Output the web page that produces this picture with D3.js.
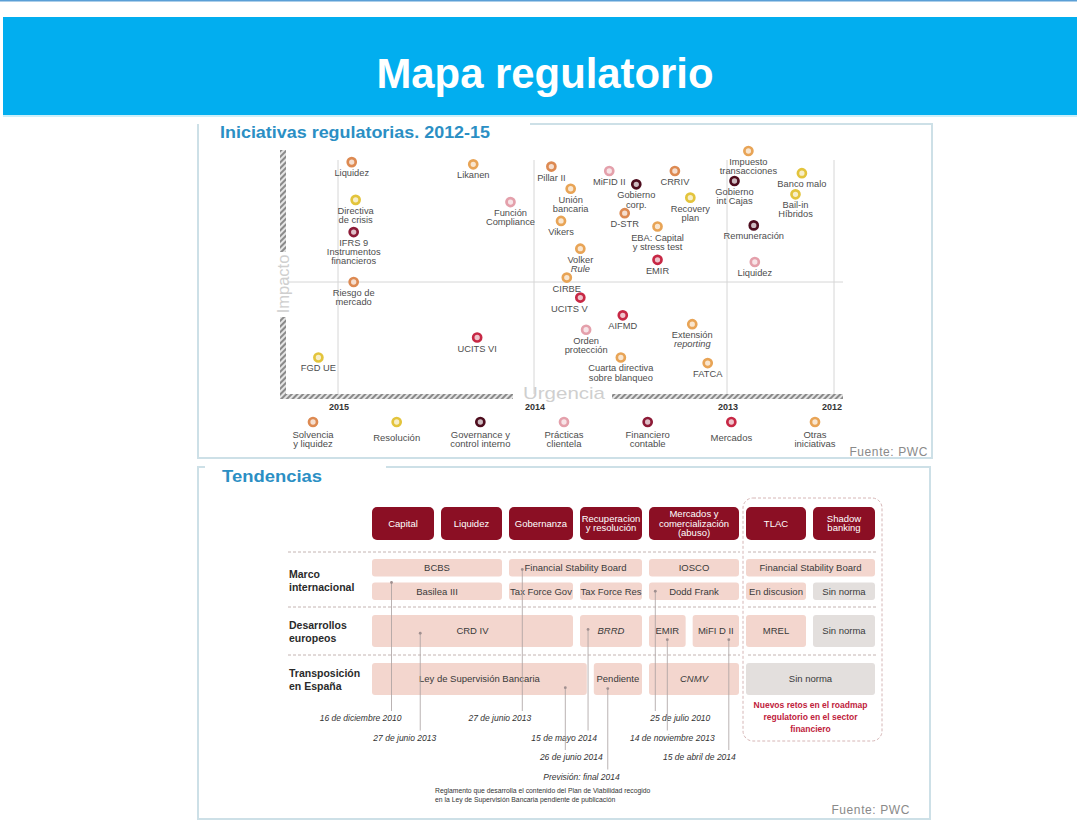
<!DOCTYPE html>
<html>
<head>
<meta charset="utf-8">
<script src="https://cdn.jsdelivr.net/npm/d3@7"></script>
<style>
  body { margin: 0; background: #fff; }
  svg { display: block; font-family: "Liberation Sans", Arial, sans-serif; }
</style>
</head>
<body>
<div id="chart"></div>
<script>
// ---------- data: Iniciativas regulatorias ----------
const categories = ["Solvencia|y liquidez", "Resolución", "Governance y|control interno",
  "Prácticas|clientela", "Financiero|contable", "Mercados", "Otras|iniciativas"];
const catColors = ["#dd8a52", "#e3c43c", "#4e0d1e", "#e4a0ab", "#8d1b37", "#c72845", "#e8a456"];
const years = [2015, 2014, 2013, 2012];

// urg = urgency (year), imp = impact score, cat = index in categories
const initiatives = [
  {name: "Liquidez", cat: 0, urg: 2014.93, imp: 10.4},
  {name: "Directiva|de crisis", cat: 1, urg: 2014.91, imp: 8.7},
  {name: "IFRS 9|Instrumentos|financieros", cat: 4, urg: 2014.92, imp: 7.25},
  {name: "Riesgo de|mercado", cat: 0, urg: 2014.92, imp: 5.0},
  {name: "FGD UE", cat: 1, urg: 2015.10, imp: 1.6},
  {name: "Likanen", cat: 6, urg: 2014.31, imp: 10.3},
  {name: "Función|Compliance", cat: 3, urg: 2014.12, imp: 8.6},
  {name: "UCITS VI", cat: 5, urg: 2014.29, imp: 2.5},
  {name: "Pillar II", cat: 0, urg: 2013.91, imp: 10.2},
  {name: "MiFID II", cat: 3, urg: 2013.61, imp: 10.0},
  {name: "Gobierno|corp.", cat: 2, urg: 2013.47, imp: 9.4},
  {name: "CRRIV", cat: 0, urg: 2013.27, imp: 10.0},
  {name: "Unión|bancaria", cat: 6, urg: 2013.81, imp: 9.2},
  {name: "Vikers", cat: 6, urg: 2013.86, imp: 7.75},
  {name: "D-STR", cat: 0, urg: 2013.53, imp: 8.1},
  {name: "Recovery|plan", cat: 1, urg: 2013.19, imp: 8.8},
  {name: "EBA: Capital|y stress test", cat: 6, urg: 2013.36, imp: 7.5},
  {name: "Volker|*Rule", cat: 6, urg: 2013.76, imp: 6.5},
  {name: "EMIR", cat: 5, urg: 2013.36, imp: 6.0},
  {name: "CIRBE", cat: 6, urg: 2013.83, imp: 5.2},
  {name: "UCITS V", cat: 5, urg: 2013.76, imp: 4.3},
  {name: "AIFMD", cat: 5, urg: 2013.54, imp: 3.5},
  {name: "Orden|protección", cat: 3, urg: 2013.73, imp: 2.85},
  {name: "Cuarta directiva|sobre blanqueo", cat: 6, urg: 2013.55, imp: 1.6},
  {name: "Extensión|*reporting", cat: 6, urg: 2013.18, imp: 3.1},
  {name: "FATCA", cat: 6, urg: 2013.10, imp: 1.35},
  {name: "Impuesto|transacciones", cat: 6, urg: 2012.80, imp: 10.9},
  {name: "Gobierno|int Cajas", cat: 2, urg: 2012.93, imp: 9.55},
  {name: "Banco malo", cat: 1, urg: 2012.30, imp: 9.9},
  {name: "Bail-in|Híbridos", cat: 1, urg: 2012.36, imp: 8.95},
  {name: "Remuneración", cat: 2, urg: 2012.75, imp: 7.55},
  {name: "Liquidez", cat: 3, urg: 2012.74, imp: 5.9}
];

// ---------- data: Tendencias ----------
const themes = ["Capital", "Liquidez", "Gobernanza", "Recuperacion|y resolución",
  "Mercados y|comercialización|(abuso)", "TLAC", "Shadow|banking"];
const levels = ["Marco|internacional", "Desarrollos|europeos", "Transposición|en España"];

// from/to = theme columns covered, lane 1/2 = upper/lower half of the row
const norms = [
  {label: "BCBS", row: 0, lane: 1, from: 0, to: 2},
  {label: "Financial Stability Board", row: 0, lane: 1, from: 2, to: 4},
  {label: "IOSCO", row: 0, lane: 1, from: 4, to: 5},
  {label: "Financial Stability Board", row: 0, lane: 1, from: 5, to: 7},
  {label: "Basilea III", row: 0, lane: 2, from: 0, to: 2},
  {label: "Tax Force Gov", row: 0, lane: 2, from: 2, to: 3},
  {label: "Tax Force Res", row: 0, lane: 2, from: 3, to: 4},
  {label: "Dodd Frank", row: 0, lane: 2, from: 4, to: 5},
  {label: "En discusion", row: 0, lane: 2, from: 5, to: 6},
  {label: "Sin norma", row: 0, lane: 2, from: 6, to: 7, none: true},
  {label: "CRD IV", row: 1, lane: 0, from: 0, to: 3},
  {label: "*BRRD", row: 1, lane: 0, from: 3, to: 4},
  {label: "EMIR", row: 1, lane: 0, from: 4, to: 4.45},
  {label: "MiFI D II", row: 1, lane: 0, from: 4.45, to: 5},
  {label: "MREL", row: 1, lane: 0, from: 5, to: 6},
  {label: "Sin norma", row: 1, lane: 0, from: 6, to: 7, none: true},
  {label: "Ley de Supervisión Bancaria", row: 2, lane: 0, from: 0, to: 3.2},
  {label: "Pendiente", row: 2, lane: 0, from: 3.2, to: 4},
  {label: "*CNMV", row: 2, lane: 0, from: 4, to: 5},
  {label: "Sin norma", row: 2, lane: 0, from: 5, to: 7, none: true}
];

// at = where along the bar, depth = where inside the bar height
const milestones = [
  {date: "16 de diciembre 2010", norm: "Basilea III", at: 0.15, depth: 0.0, level: 0},
  {date: "27 de junio 2013", norm: "CRD IV", at: 0.24, depth: 0.57, level: 1},
  {date: "27 de junio 2013", norm: "Financial Stability Board", at: 0.1, depth: 0.6, level: 0},
  {date: "15 de mayo 2014", norm: "*BRRD", at: 0.13, depth: 0.45, level: 1},
  {date: "26 de junio 2014", norm: "Ley de Supervisión Bancaria", at: 0.9, depth: 0.77, level: 2},
  {date: "Previsión: final 2014", norm: "Pendiente", at: 0.29, depth: 0.8, level: 3},
  {date: "25 de julio 2010", norm: "Dodd Frank", at: 0.07, depth: 0.5, level: 0},
  {date: "14 de noviembre 2013", norm: "EMIR", at: 0.5, depth: 0.77, level: 1},
  {date: "15 de abril de 2014", norm: "MiFI D II", at: 0.78, depth: 0.77, level: 2}
];
const footnote = ["Reglamento que desarrolla el contenido del Plan de Viabilidad recogido",
  "en la Ley de Supervisión Bancaria pendiente de publicación"];
const newChallenges = ["Nuevos retos en el roadmap", "regulatorio en el sector", "financiero"];

// ---------- svg ----------
const W = 1077, H = 821;
const svg = d3.select("#chart").append("svg")
  .attr("width", W).attr("height", H);

const narrow = "'Liberation Sans Narrow', 'Arial Narrow', 'Liberation Sans', Arial, sans-serif";

const defs = svg.append("defs");
const pat = defs.append("pattern")
  .attr("id", "hatch").attr("patternUnits", "userSpaceOnUse")
  .attr("width", 4).attr("height", 4)
  .attr("patternTransform", "rotate(45)");
pat.append("rect").attr("width", 4).attr("height", 4).attr("fill", "#e4e4e4");
pat.append("rect").attr("width", 2).attr("height", 4).attr("fill", "#8a8a8a");

// banner
svg.append("rect").attr("x", 0).attr("y", 0).attr("width", W).attr("height", 1.5).attr("fill", "#5a9fd6");
svg.append("rect").attr("x", 3).attr("y", 17).attr("width", W - 3).attr("height", 98).attr("fill", "#02aeef");
svg.append("rect").attr("x", 3).attr("y", 115).attr("width", W - 3).attr("height", 2).attr("fill", "#cdeff9");
svg.append("text")
  .attr("x", 545).attr("y", 88)
  .attr("text-anchor", "middle")
  .attr("fill", "#fff")
  .style("font-family", narrow)
  .style("font-weight", "bold")
  .style("font-size", "43px")
  .attr("textLength", 337).attr("lengthAdjust", "spacingAndGlyphs")
  .text("Mapa regulatorio");

// panel frames
const frame = "#cde0e7";
svg.append("path")
  .attr("d", "M530,124 H932 V458 H198 V124")
  .attr("fill", "none").attr("stroke", frame).attr("stroke-width", 2);
svg.append("path")
  .attr("d", "M205,467 H198 V819 H930 V467 H386")
  .attr("fill", "none").attr("stroke", frame).attr("stroke-width", 2);

function panelTitle(txt, x, y, len) {
  svg.append("text")
    .attr("x", x).attr("y", y)
    .attr("fill", "#2b8fc4")
    .style("font-weight", "bold").style("font-size", "17px")
    .attr("textLength", len).attr("lengthAdjust", "spacingAndGlyphs")
    .text(txt);
}
panelTitle("Iniciativas regulatorias. 2012-15", 220, 138, 270);
panelTitle("Tendencias", 222, 482, 100);

function fuente(x, y) {
  svg.append("text")
    .attr("x", x).attr("y", y).attr("text-anchor", "end")
    .attr("fill", "#8a8a8a")
    .style("font-size", "12px").style("letter-spacing", "0.6px")
    .text("Fuente: PWC");
}
fuente(928, 456);
fuente(910, 814);

// multi-line label helper; "*" prefix = italic line
function lines(sel, str, x, y0, step) {
  str.split("|").forEach(function(s, i) {
    const it = s.startsWith("*");
    sel.append("tspan")
      .attr("x", x).attr("y", y0 + i * step)
      .style("font-style", it ? "italic" : null)
      .text(it ? s.slice(1) : s);
  });
}

// ---------- top chart ----------
const x = d3.scaleLinear().domain(years).range([338, 534, 727, 834]);
const y = d3.scaleLinear().domain([0, 10]).range([393, 171]);

const grid = svg.append("g").attr("stroke", "#d6d6d6").attr("stroke-width", 1);
grid.selectAll("line.v")
  .data(years)
  .enter().append("line")
    .attr("x1", d => x(d)).attr("x2", d => x(d))
    .attr("y1", 160).attr("y2", 394);
grid.append("line")
  .attr("x1", 287).attr("x2", 843)
  .attr("y1", y(5)).attr("y2", y(5));

// hatched axes
const axisX = x(2015) - 55;
[[150, 252], [317, 397]].forEach(function(s) {
  svg.append("rect").attr("x", axisX - 3).attr("y", s[0])
    .attr("width", 6).attr("height", s[1] - s[0]).attr("fill", "url(#hatch)");
});
[[axisX - 3, 513], [612, 843]].forEach(function(s) {
  svg.append("rect").attr("x", s[0]).attr("y", y(0) + 1)
    .attr("width", s[1] - s[0]).attr("height", 5).attr("fill", "url(#hatch)");
});
svg.append("text")
  .attr("transform", `translate(${axisX + 6}, 284) rotate(-90)`)
  .attr("text-anchor", "middle")
  .attr("fill", "#cfcfcf").style("font-size", "16.5px")
  .text("Impacto");
svg.append("text")
  .attr("x", 523).attr("y", 399)
  .attr("fill", "#cfcfcf").style("font-size", "17px")
  .attr("textLength", 82).attr("lengthAdjust", "spacingAndGlyphs")
  .text("Urgencia");

svg.append("g").selectAll("text")
  .data(years)
  .enter().append("text")
    .attr("x", d => x(d) - (d === 2012 ? 2 : -1)).attr("y", 410)
    .attr("text-anchor", "middle")
    .attr("fill", "#333").style("font-size", "9px").style("font-weight", "bold")
    .text(d => d);

function ring(sel, ci) {
  const c = catColors[ci];
  sel.attr("r", 4)
    .attr("fill", d3.interpolateRgb(c, "#fff")(0.72))
    .attr("stroke", c).attr("stroke-width", 2.7);
}

const labelDx = {"UCITS V": -11};
const pts = svg.append("g").selectAll("g")
  .data(initiatives)
  .enter().append("g")
    .attr("transform", d => `translate(${x(d.urg)}, ${y(d.imp)})`);
pts.each(function(d) {
  const g = d3.select(this);
  g.append("circle").call(ring, d.cat);
  const t = g.append("text")
    .attr("text-anchor", "middle")
    .attr("fill", "#4d4d4d").style("font-size", "9.3px");
  lines(t, d.name, labelDx[d.name] || 0, 14, 9.2);
});

// legend
const lx = d3.scalePoint().domain(d3.range(categories.length)).range([313, 815]);
const leg = svg.append("g").selectAll("g")
  .data(categories)
  .enter().append("g")
    .attr("transform", (d, i) => `translate(${lx(i)}, 422)`);
leg.each(function(d, i) {
  const g = d3.select(this);
  g.append("circle").call(ring, i);
  const t = g.append("text").attr("text-anchor", "middle")
    .attr("fill", "#4d4d4d").style("font-size", "9.5px");
  const n = d.split("|").length;
  lines(t, d, 0, n === 1 ? 19 : 15.5, 9.2);
});

// ---------- bottom table ----------
const bx = d3.scaleLinear().domain([0, 1, 2, 3, 4, 5, 6, 7])
  .range([372, 441, 509, 580, 649, 746, 813, 882]);
const by = d3.scaleLinear().domain([0, 1, 2, 3]).range([552, 607, 655, 703]);
const gap = 7;

// dashed box for new challenges
svg.append("rect")
  .attr("x", 743).attr("y", 498).attr("width", 139).attr("height", 243)
  .attr("rx", 10)
  .attr("fill", "none").attr("stroke", "#d6b6b6")
  .attr("stroke-dasharray", "3,2").attr("stroke-width", 1);

// row separators
const sep = svg.append("g").attr("stroke", "#c4b4b2").attr("stroke-dasharray", "3,2").attr("stroke-width", 1);
[0, 1, 2].forEach(function(r) {
  sep.append("line").attr("x1", 288).attr("x2", 740).attr("y1", by(r)).attr("y2", by(r));
  sep.append("line").attr("x1", 748).attr("x2", 878).attr("y1", by(r)).attr("y2", by(r));
});

// theme headers
const hdr = svg.append("g").selectAll("g")
  .data(themes)
  .enter().append("g");
hdr.append("rect")
  .attr("x", (d, i) => bx(i)).attr("y", 507)
  .attr("width", (d, i) => bx(i + 1) - bx(i) - gap).attr("height", 33)
  .attr("rx", 5).attr("fill", "#8b0f24");
hdr.each(function(d, i) {
  const n = d.split("|").length;
  const t = d3.select(this).append("text")
    .attr("text-anchor", "middle").attr("fill", "#fff")
    .style("font-family", narrow).style("font-size", "9.5px");
  lines(t, d, (bx(i) + bx(i + 1) - gap) / 2, 526.5 - (n - 1) * 4.6, 9.2);
});

// row labels
svg.append("g").selectAll("text")
  .data(levels)
  .enter().append("text")
    .attr("fill", "#2a2a2a")
    .style("font-family", narrow).style("font-weight", "bold").style("font-size", "10.5px")
    .each(function(d, i) {
      const c = (by(i) + by(i + 1)) / 2;
      lines(d3.select(this), d, 289, c - 2, 13);
    });

function barY(d) {
  if (d.lane === 1) return [by(d.row) + 7, by(d.row + 0.5) - 3];
  if (d.lane === 2) return [by(d.row + 0.5) + 3, by(d.row + 1) - 7];
  return [by(d.row) + 8, by(d.row + 1) - 8];
}

const bars = svg.append("g").selectAll("g")
  .data(norms)
  .enter().append("g");
bars.append("rect")
  .attr("x", d => bx(d.from))
  .attr("y", d => barY(d)[0])
  .attr("width", d => bx(d.to) - bx(d.from) - gap)
  .attr("height", d => barY(d)[1] - barY(d)[0])
  .attr("rx", 3)
  .attr("fill", d => d.none ? "#e3dfdd" : "#f3d6ce");
bars.append("text")
  .attr("x", d => (bx(d.from) + bx(d.to) - gap) / 2)
  .attr("y", d => (barY(d)[0] + barY(d)[1]) / 2 + 3.3)
  .attr("text-anchor", "middle")
  .attr("fill", "#3a3a3a")
  .style("font-family", narrow).style("font-size", "9.5px")
  .style("font-style", d => d.label.startsWith("*") ? "italic" : null)
  .text(d => d.label.replace("*", ""));

// milestones
const nudge = [
  {anchor: "end", dx: 10}, {anchor: "end", dx: 16}, {anchor: "end", dx: 9},
  {anchor: "end", dx: 9}, {anchor: "middle", dx: 6}, {anchor: "end", dx: 12},
  {anchor: "start", dx: -5}, {anchor: "middle", dx: 5}, {anchor: "end", dx: 7}
];
const ms = svg.append("g");
milestones.forEach(function(m, i) {
  const b = norms.find(n => n.label === m.norm);
  const yy = barY(b);
  const px = bx(b.from) + m.at * (bx(b.to) - bx(b.from) - gap);
  const py = yy[0] + m.depth * (yy[1] - yy[0]);
  const base = 721 + m.level * 19.5;
  ms.append("line")
    .attr("x1", px).attr("x2", px).attr("y1", py).attr("y2", base - 10)
    .attr("stroke", "#a8a0a0").attr("stroke-width", 0.8);
  ms.append("circle").attr("cx", px).attr("cy", py).attr("r", 1.4).attr("fill", "#a09090");
  ms.append("text")
    .attr("x", px + nudge[i].dx).attr("y", base)
    .attr("text-anchor", nudge[i].anchor)
    .attr("fill", "#333").style("font-size", "8.5px").style("font-style", "italic")
    .text(m.date);
});

svg.append("text")
  .attr("fill", "#333").style("font-size", "6.8px")
  .call(t => lines(t, footnote.join("|"), 435, 793, 9));

svg.append("text")
  .attr("text-anchor", "middle")
  .attr("fill", "#c0223c").style("font-size", "8.5px").style("font-weight", "bold")
  .call(t => lines(t, newChallenges.join("|"), (bx(5) + bx(7) - gap) / 2, 708, 12));
</script>
</body>
</html>
